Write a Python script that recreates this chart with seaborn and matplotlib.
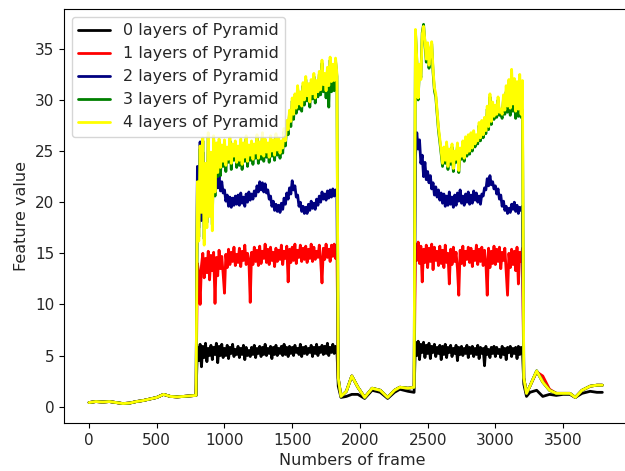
import matplotlib
matplotlib.use("Agg")
import matplotlib.pyplot as plt
import seaborn as sns
import numpy as np
import pandas as pd

# frame positions of the sampled points
low1_frames = [0, 50, 100, 150, 200, 250, 300, 350, 400, 450, 500, 550, 600, 650, 700, 750, 790]
seg1_frames = list(range(800, 1840, 10))
low2_frames = [1840, 1860, 1900, 1940, 1985, 2035, 2090, 2150, 2205, 2255, 2295, 2355, 2400]
seg2_frames = list(range(2410, 3210, 10))
low3_frames = [3210, 3230, 3255, 3305, 3350, 3400, 3450, 3500, 3550, 3590, 3640, 3700, 3750, 3790]

# quiet parts (all pyramid levels almost overlap)
low1 = [0.4, 0.5, 0.45, 0.5, 0.4, 0.3, 0.35, 0.5, 0.6, 0.75, 0.9, 1.2, 1.0, 0.95, 1.0, 1.05, 1.1]
low2 = [2.8, 1.0, 1.5, 3.0, 1.9, 0.9, 1.8, 1.6, 0.9, 1.6, 1.9, 1.8, 1.9]
low3 = [2.8, 1.3, 2.0, 3.5, 2.4, 1.6, 1.3, 1.3, 1.3, 0.9, 1.6, 2.0, 2.1, 2.1]
low2_black = [2.0, 0.9, 1.0, 1.2, 1.2, 0.8, 1.6, 1.4, 0.8, 1.4, 1.7, 1.5, 1.4]
low3_black = [2.2, 1.0, 1.4, 1.6, 1.0, 1.2, 1.1, 1.2, 1.2, 0.9, 1.3, 1.5, 1.4, 1.4]
low3_red = [2.8, 1.3, 2.0, 3.4, 3.0, 1.7, 1.3, 1.3, 1.3, 0.9, 1.6, 2.0, 2.1, 2.1]

# 0 layers
black_seg1 = [5.8, 4.5, 6.1, 3.9, 5.9, 4.8, 6.2, 4.4, 5.7, 5.0,
              6.0, 4.6, 5.8, 5.1, 6.2, 4.3, 5.9, 5.0, 6.1, 4.8,
              5.7, 5.0, 6.0, 4.7, 5.8, 5.2, 6.1, 4.9, 5.6, 5.1,
              5.9, 4.8, 5.7, 5.1, 6.0, 4.6, 5.8, 5.0, 5.5, 4.9,
              5.8, 5.1, 6.0, 4.8, 5.7, 5.2, 5.9, 4.9, 5.8, 5.1,
              6.1, 5.0, 5.7, 5.2, 5.9, 4.7, 5.8, 5.1, 6.0, 5.0,
              5.7, 5.2, 5.9, 5.0, 6.1, 5.1, 5.8, 4.9, 5.9, 5.2,
              5.8, 5.0, 6.0, 5.3, 5.7, 5.1, 6.1, 4.9, 5.8, 5.2,
              5.9, 5.1, 5.7, 5.3, 6.0, 4.9, 5.8, 5.2, 6.1, 5.0,
              5.8, 5.3, 6.0, 5.1, 5.9, 5.2, 6.2, 5.0, 5.8, 5.3,
              6.1, 5.2, 5.9, 5.6]
black_seg2 = [6.3, 5.0, 6.4, 4.6, 6.1, 5.3, 6.3, 4.8, 6.0, 5.2,
              6.2, 4.7, 5.9, 5.3, 6.1, 4.9, 5.8, 5.2, 6.0, 4.6,
              5.9, 5.1, 6.1, 4.8, 5.8, 5.3, 6.0, 4.9, 5.7, 5.2,
              6.0, 4.5, 5.8, 5.1, 5.9, 5.0, 5.7, 5.2, 6.0, 4.8,
              5.8, 5.2, 5.9, 4.9, 5.7, 5.1, 6.0, 4.7, 5.8, 5.2,
              5.7, 4.0, 5.9, 5.1, 5.6, 4.8, 5.8, 5.2, 5.9, 4.9,
              5.8, 5.2, 5.6, 4.8, 5.9, 5.1, 5.7, 4.6, 5.8, 5.3,
              5.9, 4.9, 5.7, 5.2, 5.8, 4.7, 5.9, 5.1, 5.8, 5.5]

# 1 layer
red_seg1 = [14.0, 13.2, 10.0, 13.8, 15.0, 12.6, 14.5, 13.1, 15.2, 12.4,
            14.8, 13.3, 15.1, 10.1, 14.6, 12.8, 15.3, 13.5, 14.7, 13.0,
            11.1, 14.9, 13.6, 15.4, 13.9, 15.1, 14.2, 15.6, 13.8, 14.9,
            14.1, 15.5, 13.7, 15.2, 14.3, 15.8, 13.9, 15.0, 14.4, 10.2,
            15.1, 13.9, 15.6, 14.2, 15.3, 13.8, 15.7, 14.0, 15.2, 14.5,
            15.9, 14.1, 15.4, 13.9, 15.6, 14.3, 15.1, 13.7, 15.5, 14.2,
            15.3, 14.4, 15.8, 13.9, 15.2, 14.5, 15.7, 12.2, 15.4, 14.1,
            15.6, 14.3, 15.9, 14.0, 15.3, 14.6, 15.8, 14.2, 15.5, 14.4,
            15.7, 14.1, 15.4, 14.5, 15.9, 14.2, 15.6, 14.4, 15.2, 14.6,
            15.8, 14.3, 12.1, 15.5, 14.4, 15.9, 14.6, 15.4, 14.2, 15.8,
            14.7, 15.9, 14.5, 15.6]
red_seg2 = [15.9, 14.3, 16.1, 14.0, 15.7, 12.2, 15.4, 14.1, 15.8, 13.6,
            15.5, 14.2, 15.9, 13.4, 15.6, 14.3, 15.2, 13.8, 15.7, 14.0,
            15.3, 13.6, 15.8, 14.1, 15.0, 12.0, 15.4, 13.9, 15.6, 14.2,
            15.1, 13.5, 10.9, 15.3, 14.0, 15.7, 13.8, 15.2, 14.4, 15.6,
            14.1, 15.5, 13.7, 15.2, 14.3, 15.8, 13.9, 15.4, 14.2, 15.6,
            13.8, 15.3, 14.1, 10.9, 15.5, 13.6, 15.2, 14.0, 15.7, 13.9,
            15.4, 14.2, 15.6, 13.5, 15.1, 14.3, 15.5, 13.2, 10.9, 15.0,
            13.6, 15.4, 13.9, 15.2, 13.3, 15.6, 12.0, 15.1, 14.2, 15.5]

# 2 layers
blue_seg1 = [23.5, 17.5, 25.9, 18.2, 24.9, 19.0, 22.6, 21.8, 22.9, 21.5,
             22.4, 21.2, 22.8, 21.6, 22.5, 21.4, 22.6, 21.1, 22.0, 20.9,
             21.2, 20.1, 20.7, 19.6, 20.5, 19.5, 20.4, 19.7, 20.6, 19.8,
             20.7, 19.7, 20.9, 19.9, 20.5, 19.6, 20.8, 20.0, 21.0, 20.2,
             20.8, 20.3, 21.1, 20.6, 21.6, 21.0, 22.0, 21.2, 21.9, 21.0,
             21.8, 20.9, 21.2, 20.3, 20.6, 19.6, 20.1, 19.2, 19.8, 19.1,
             19.7, 19.0, 19.9, 19.3, 20.4, 19.8, 20.9, 20.3, 21.4, 20.8,
             22.1, 21.2, 21.6, 20.5, 20.7, 19.6, 20.0, 19.1, 19.6, 18.9,
             19.5, 18.9, 19.8, 19.2, 20.1, 19.4, 19.9, 19.3, 20.3, 19.7,
             20.6, 20.0, 21.0, 20.3, 20.8, 20.2, 21.1, 20.4, 21.2, 20.5,
             21.3, 20.6, 21.2, 20.8]
blue_seg2 = [24.5, 26.8, 25.2, 26.1, 23.8, 24.6, 22.5, 23.9, 22.2, 23.0,
             21.9, 22.6, 21.3, 21.9, 20.7, 21.5, 20.5, 21.2, 20.2, 20.9,
             19.9, 20.8, 19.6, 20.6, 19.7, 21.0, 19.8, 20.5, 19.5, 20.7,
             19.7, 20.9, 20.1, 21.2, 19.9, 20.6, 19.7, 20.8, 20.0, 21.0,
             19.8, 20.7, 19.9, 21.1, 20.2, 20.9, 20.0, 20.6, 19.8, 20.8,
             20.6, 21.4, 21.2, 22.3, 21.6, 22.6, 21.7, 22.0, 21.3, 21.6,
             20.8, 21.3, 20.3, 20.7, 19.6, 20.1, 19.2, 19.6, 18.9, 19.4,
             19.0, 19.8, 19.3, 20.0, 19.1, 19.7, 18.9, 19.5, 19.2, 19.6]

# 3 layers
green_seg1 = [22.0, 16.6, 25.2, 19.3, 26.0, 16.4, 23.5, 18.0, 26.4, 18.9,
              24.6, 17.8, 26.1, 20.6, 25.4, 22.5, 25.9, 22.6, 25.3, 23.5,
              25.8, 23.0, 25.1, 23.9, 26.0, 23.2, 25.4, 24.1, 25.7, 23.4,
              25.2, 23.6, 25.9, 23.2, 25.5, 24.0, 26.2, 23.5, 25.3, 24.1,
              25.7, 23.7, 25.4, 24.3, 26.3, 23.8, 25.6, 24.2, 26.5, 24.0,
              25.9, 24.4, 25.5, 23.9, 26.2, 24.5, 25.8, 24.1, 26.4, 24.6,
              26.0, 24.3, 25.7, 24.8, 26.9, 25.5, 27.7, 26.6, 28.7, 27.4,
              29.9, 28.1, 30.3, 28.7, 31.1, 29.1, 30.5, 28.9, 31.4, 29.5,
              32.0, 29.9, 31.3, 29.3, 31.7, 30.1, 32.3, 29.7, 31.6, 30.3,
              32.5, 30.5, 33.6, 30.8, 32.3, 30.2, 32.9, 29.3, 33.9, 30.8,
              33.2, 30.9, 33.8, 32.3]
green_seg2 = [36.7, 33.8, 30.0, 33.3, 32.2, 36.6, 37.4, 35.6, 33.7, 35.3,
              33.1, 34.5, 35.5, 32.7, 30.9, 30.3, 28.6, 27.0, 25.9, 24.7,
              23.5, 25.1, 23.8, 25.6, 23.2, 24.9, 23.7, 25.4, 23.0, 24.7,
              23.9, 25.5, 22.9, 25.0, 24.2, 25.7, 24.0, 26.1, 24.5, 26.3,
              24.7, 26.5, 25.0, 26.7, 25.4, 26.3, 25.7, 27.5, 26.0, 27.7,
              26.3, 28.0, 26.7, 29.1, 27.1, 30.3, 27.6, 29.5, 28.1, 29.2,
              28.3, 30.0, 28.5, 28.8, 28.2, 30.1, 28.6, 30.8, 28.8, 30.6,
              28.5, 30.9, 28.9, 30.4, 28.2, 30.0, 28.4, 29.6, 28.3, 29.0]

# 4 layers
yellow_seg1 = [22.0, 16.2, 25.5, 19.0, 26.3, 15.8, 23.8, 17.5, 26.8, 18.6,
               24.9, 17.2, 26.5, 21.0, 25.8, 22.9, 26.2, 23.4, 25.6, 24.0,
               26.1, 23.6, 25.4, 24.2, 26.3, 23.8, 25.7, 24.5, 26.0, 23.9,
               25.5, 24.1, 26.2, 23.7, 25.8, 24.4, 26.5, 24.0, 25.6, 24.6,
               26.0, 24.2, 25.7, 24.8, 26.6, 24.3, 25.9, 24.7, 26.8, 24.5,
               26.2, 24.9, 25.8, 24.4, 26.5, 25.0, 26.1, 24.6, 26.7, 25.1,
               26.3, 24.8, 26.0, 25.3, 27.2, 26.0, 28.0, 27.1, 29.0, 27.9,
               30.2, 28.6, 30.6, 29.2, 31.4, 29.6, 30.8, 29.4, 31.7, 30.0,
               32.3, 30.4, 31.6, 29.8, 32.0, 30.6, 32.6, 30.2, 31.9, 30.8,
               32.8, 31.0, 33.9, 31.5, 32.6, 30.9, 33.2, 31.4, 34.2, 31.8,
               33.5, 31.9, 34.1, 32.6]
yellow_seg2 = [36.9, 34.0, 30.2, 33.5, 32.0, 36.4, 37.2, 35.8, 34.0, 35.6,
               33.4, 34.8, 35.7, 33.0, 31.2, 30.6, 28.9, 27.3, 26.2, 25.0,
               23.8, 25.4, 24.1, 25.9, 23.5, 25.2, 24.0, 25.7, 23.3, 25.0,
               24.2, 25.8, 23.1, 25.3, 24.5, 26.0, 24.3, 26.4, 24.8, 26.6,
               25.0, 26.8, 25.3, 27.0, 25.7, 26.6, 26.0, 27.8, 26.3, 28.0,
               26.6, 28.3, 27.0, 29.4, 27.4, 30.6, 27.9, 29.8, 28.4, 29.5,
               28.6, 30.3, 28.8, 29.1, 28.6, 30.5, 29.0, 31.4, 29.4, 32.0,
               29.2, 33.0, 29.6, 32.1, 28.9, 31.8, 29.1, 32.5, 28.6, 31.9]

labels = ["0 layers of Pyramid", "1 layers of Pyramid", "2 layers of Pyramid",
          "3 layers of Pyramid", "4 layers of Pyramid"]
colors = ["black", "red", "#000080", "green", "yellow"]

frames = low1_frames + seg1_frames + low2_frames + seg2_frames + low3_frames
series = [
    low1 + black_seg1 + low2_black + black_seg2 + low3_black,
    low1 + red_seg1 + low2 + red_seg2 + low3_red,
    low1 + blue_seg1 + low2 + blue_seg2 + low3,
    low1 + green_seg1 + low2 + green_seg2 + low3,
    low1 + yellow_seg1 + low2 + yellow_seg2 + low3,
]

df = pd.concat([pd.DataFrame({"frame": frames, "value": v, "layer": lab})
                for v, lab in zip(series, labels)], ignore_index=True)

sns.set_style("ticks")
plt.rcParams["font.family"] = ["DejaVu Sans"]

fig = plt.figure(figsize=(6.25, 4.71), dpi=100)
# right edge of the axes runs past the image, as in the cropped original
ax = fig.add_axes([64 / 625, 48 / 471, 576 / 625, 414 / 471])

sns.lineplot(data=df, x="frame", y="value", hue="layer", palette=colors,
             estimator=None, sort=False, linewidth=2.0, ax=ax)

ax.set_xlim(-185, 4068)
ax.set_ylim(-1.6, 38.9)
ax.set_xticks(range(0, 4000, 500))
ax.set_yticks(range(0, 40, 5))
ax.tick_params(labelsize=11, direction="out", length=3.5, color="black")
for s in ax.spines.values():
    s.set_color("black")
    s.set_linewidth(0.8)

ax.set_xlabel("Numbers of frame", fontsize=11.5)
ax.set_ylabel("Feature value", fontsize=11.5)

handles, labs = ax.get_legend_handles_labels()
ax.legend(handles, labs, loc="upper left", fontsize=11.5, frameon=True,
          fancybox=True, framealpha=0.8, edgecolor="#cccccc")

fig.savefig("out.png", dpi=100)
